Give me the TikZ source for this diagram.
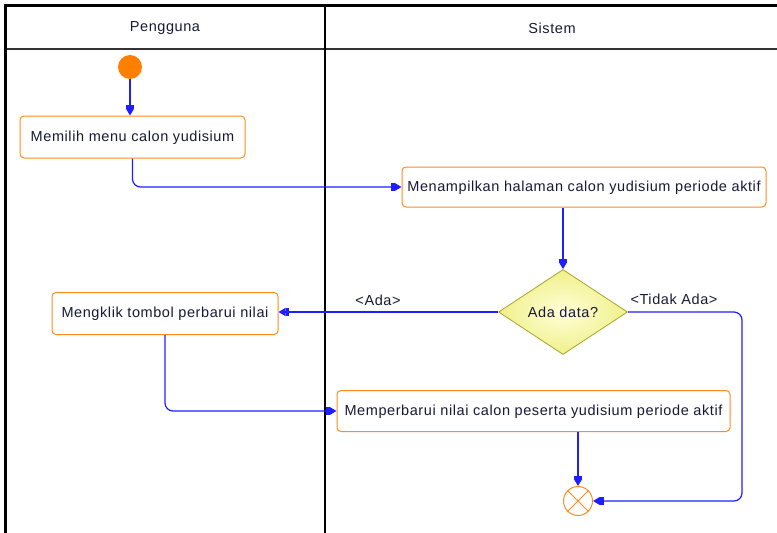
\documentclass[tikz,border=0pt]{standalone}
\usepackage{fontspec}
\setmainfont{Liberation Sans}[LetterSpace=4]
\usetikzlibrary{arrows.meta,shapes.geometric,calc}
\definecolor{ornge}{RGB}{255,128,0}
\definecolor{boxor}{RGB}{255,140,30}
\definecolor{cblue}{RGB}{30,30,255}
\definecolor{dfill}{RGB}{255,255,215}
\definecolor{dout}{RGB}{240,240,140}
\definecolor{dline}{RGB}{165,165,40}
\definecolor{txt}{RGB}{25,25,55}
\tikzset{
  act/.style={draw=boxor, line width=1pt, rounded corners=4pt, fill=white, inner sep=0pt,
    font=\fontsize{14.5}{16}\selectfont, text=txt, text height=10.5pt, text depth=2pt},
  conn/.style={draw=cblue, line width=1.2pt, rounded corners=8pt,
    -{Rectangle[length=3.5pt,width=8pt]Triangle[length=7pt,width=8pt]}},
  lbl/.style={font=\fontsize{14.5}{16}\selectfont, text=txt, inner sep=0pt},
  hdr/.style={font=\fontsize{14.5}{16}\selectfont, text=txt, inner sep=0pt},
}
\begin{document}
\begin{tikzpicture}[x=1pt,y=-1pt]
\useasboundingbox (0,0) rectangle (777,533);
% swimlane frame
\draw[line width=1.8pt, black!80] (5,49) -- (777,49);
\draw[line width=1.6pt] (325,5) -- (325,533);
\draw[line width=3pt] (5,533) -- (5,5) -- (777,5);
\node[hdr] (h1) at (165,28.5) {Pengguna};
\node[hdr] (h2) at (552,28.5) {Sistem};
% nodes
\node[circle, fill=ornge, minimum size=24pt, inner sep=0pt] (start) at (130,67) {};
\node[act, minimum width=225pt, minimum height=42pt] (b1) at (132.5,137) {Memilih menu calon yudisium};
\node[act, minimum width=364pt, minimum height=40pt] (b2) at (584,187) {Menampilkan halaman calon yudisium periode aktif};
\node[diamond, draw=dline, line width=0.8pt, inner color=dfill, outer color=dout, aspect=1.5, inner sep=0pt,
  minimum width=129pt, minimum height=85pt, font=\fontsize{14.5}{16}\selectfont, text=txt] (d) at (563,312) {Ada data?};
\node[act, minimum width=226pt, minimum height=42pt] (b3) at (165,313.5) {Mengklik tombol perbarui nilai};
\node[act, minimum width=393pt, minimum height=41pt] (b4) at (533.5,411) {Memperbarui nilai calon peserta yudisium periode aktif};
\node[circle, draw=boxor, line width=1pt, fill=white, minimum size=29pt, inner sep=0pt] (end) at (578,501) {};
\draw[boxor, line width=0.8pt] (end.45) -- (end.225) (end.135) -- (end.315);
\coordinate (tk) at (742,312);
% connectors
\draw[conn] (start.south) -- (start.south |- b1.north);
\draw[conn] (b1.south) |- (b2.west);
\draw[conn] (d.north |- b2.south) -- (d.north);
\draw[conn] (d.west) -- (d.west -| b3.east);
\draw[conn] (b3.south) |- (b4.west);
\draw[conn] (end.north |- b4.south) -- (end.north);
\draw[conn] (d.east) -- (tk) -- (tk |- end.east) -- (end.east);
% labels
\node[lbl] (la) at (378,300) {<Ada>};
\node[lbl] (lt) at (674,299) {<Tidak Ada>};
\end{tikzpicture}
\end{document}
